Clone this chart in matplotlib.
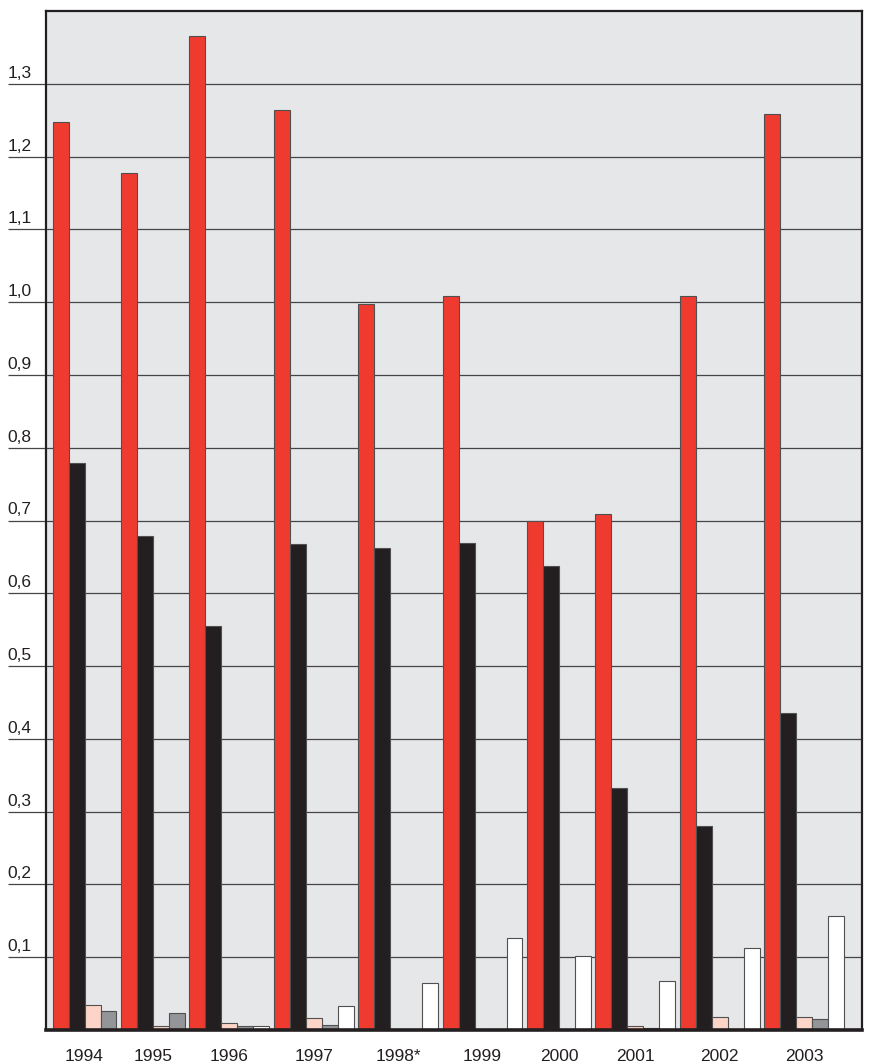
import numpy as np
import matplotlib
matplotlib.use("Agg")
import matplotlib.pyplot as plt
from matplotlib.transforms import ScaledTranslation

nan = np.nan
years = ['1994', '1995', '1996', '1997', '1998*', '1999', '2000', '2001', '2002', '2003']
red   = [1.247, 1.178, 1.366, 1.264, 0.998, 1.008, 0.699, 0.709, 1.009, 1.258]
black = [0.779, 0.679, 0.555, 0.668, 0.662, 0.669, 0.638, 0.333, 0.280, 0.435]
pink  = [0.034, 0.005, 0.010, 0.016, 0.001, 0.0, 0.0, 0.006, 0.018, 0.018]
gray  = [0.026, 0.024, 0.005, 0.007, 0.002, 0.002, nan, 0.003, 0.002, 0.015]
white = [nan, nan, 0.005, 0.033, 0.065, 0.126, 0.101, 0.068, 0.113, 0.157]
yticks = [0.1, 0.2, 0.3, 0.4, 0.5, 0.6, 0.7, 0.8, 0.9, 1.0, 1.1, 1.2, 1.3]

series = [red, black, pink, gray, white]
colors = ['#EE3A2F', '#231F20', '#FDD5C8', '#939598', '#FFFFFF']

plt.rcParams['font.family'] = ['Liberation Sans', 'DejaVu Sans']

fig = plt.figure(figsize=(8.7, 10.63), dpi=100)
fig.patch.set_facecolor('white')
ax = fig.add_axes([46 / 870, 1 - 1030 / 1063, 816 / 870, 1019 / 1063])
ax.set_facecolor('#E6E7E8')

gap = 0.28
cursor = 0.0
centers = []
for gi in range(len(years)):
    start = cursor
    for si, s in enumerate(series):
        v = s[gi]
        if np.isnan(v):
            continue
        ax.bar(cursor, v, width=1.0, align='edge', color=colors[si],
               edgecolor='#505050', linewidth=0.8, zorder=3)
        cursor += 1.0
    centers.append((start + cursor) / 2)
    cursor += gap
total = cursor - gap

ax.set_xlim(-0.41, total + 1.12)
ax.set_ylim(0, 1.4)

ax.set_yticks(yticks)
ax.set_yticklabels([f"{t:.1f}".replace('.', ',') for t in yticks])
ax.yaxis.grid(True, color='#454547', linewidth=0.9, zorder=1)
ax.set_axisbelow(True)
ax.tick_params(axis='y', direction='out', length=27.5, width=0.9, color='#454547',
               pad=0, labelsize=12.5, labelcolor='#231F20')
shift = ScaledTranslation(0, 0.06, fig.dpi_scale_trans)
for lab in ax.get_yticklabels():
    lab.set_horizontalalignment('left')
    lab.set_verticalalignment('baseline')
    lab.set_transform(lab.get_transform() + shift)

ax.set_xticks(centers)
ax.set_xticklabels(years)
ax.tick_params(axis='x', length=0, pad=14, labelsize=12.5, labelcolor='#231F20')

for side in ['left', 'top', 'right']:
    ax.spines[side].set_color('#231F20')
    ax.spines[side].set_linewidth(1.6)
ax.spines['bottom'].set_color('#231F20')
ax.spines['bottom'].set_linewidth(2.6)
for sp in ax.spines.values():
    sp.set_zorder(5)

fig.savefig('out.png', dpi=100)
